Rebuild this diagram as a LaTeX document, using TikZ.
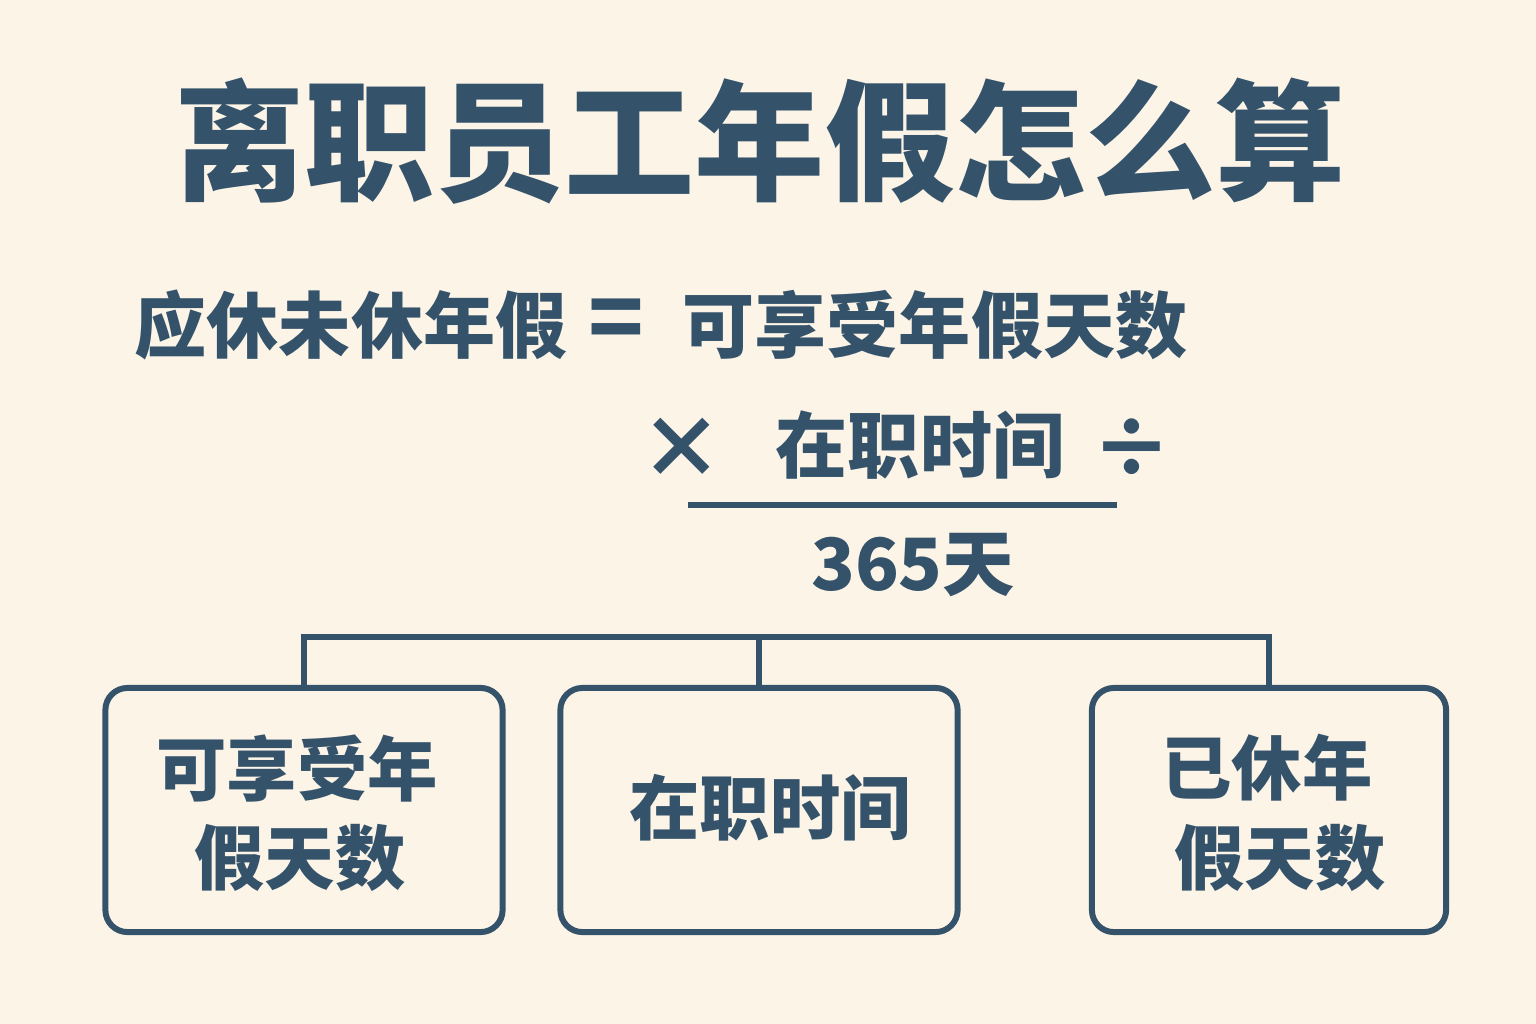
\documentclass[tikz,border=0pt]{standalone}
\usepackage{fontspec}
\setmainfont{Noto Sans CJK SC}
\definecolor{ink}{HTML}{34536B}
\definecolor{paper}{HTML}{FCF4E7}
\tikzset{
  txt/.style={text=ink, font=\bfseries, inner sep=0pt},
  title/.style={txt, font=\fontsize{37pt}{40pt}\selectfont\bfseries},
  formula/.style={txt, font=\fontsize{20.5pt}{24pt}\selectfont\bfseries},
  boxtxt/.style={txt, font=\fontsize{20pt}{24pt}\selectfont\bfseries},
  card/.style={draw=ink, line width=1.7pt, rounded corners=0.22cm, minimum height=2.44cm, inner sep=0pt},
  tree/.style={draw=ink, line width=1.45pt},
}
\begin{document}
\begin{tikzpicture}[x=0.01cm,y=-0.01cm]
\fill[paper] (0,0) rectangle (1536,1024);
\useasboundingbox (0,0) rectangle (1536,1024);

\node[title] (ttl) at (760,141) {离职员工年假怎么算};

\node[formula] (lhs) at (351,325) {应休未休年假};
\node[formula, font=\fontsize{26pt}{28pt}\selectfont\bfseries] (eq) at (616,325) {=};
\node[formula] (rhs) at (935,325) {可享受年假天数};

\node[formula, font=\fontsize{24pt}{26pt}\selectfont\bfseries] (times) at (682,448) {×};
\node[formula] (num) at (920,445) {在职时间};
\node[formula, font=\fontsize{23pt}{26pt}\selectfont\bfseries] (div) at (1132,448) {÷};
\coordinate (fl) at (688,505);
\coordinate (fr) at (1117,505);
\draw[tree] (fl) -- (fr);
\node[formula] (den) at (913,565) {365天};

\node[card, minimum width=3.97cm] (b1) at (304,810) {};
\node[card, minimum width=3.97cm] (b2) at (759,810) {};
\node[card, minimum width=3.54cm] (b3) at (1269,810) {};

\coordinate (j1) at (304,637);
\coordinate (j2) at (759,637);
\coordinate (j3) at (1269,637);
\draw[tree] (b1.north) -- (j1) -- (j3) -- (b3.north);
\draw[tree] (j2) -- (b2.north);

\node[boxtxt] (b1a) at (297,768) {可享受年};
\node[boxtxt] (b1b) at (300,858) {假天数};
\node[boxtxt] (b2a) at (770,808) {在职时间};
\node[boxtxt] (b3a) at (1267,768) {已休年};
\node[boxtxt] (b3b) at (1280,858) {假天数};
\end{tikzpicture}
\end{document}
